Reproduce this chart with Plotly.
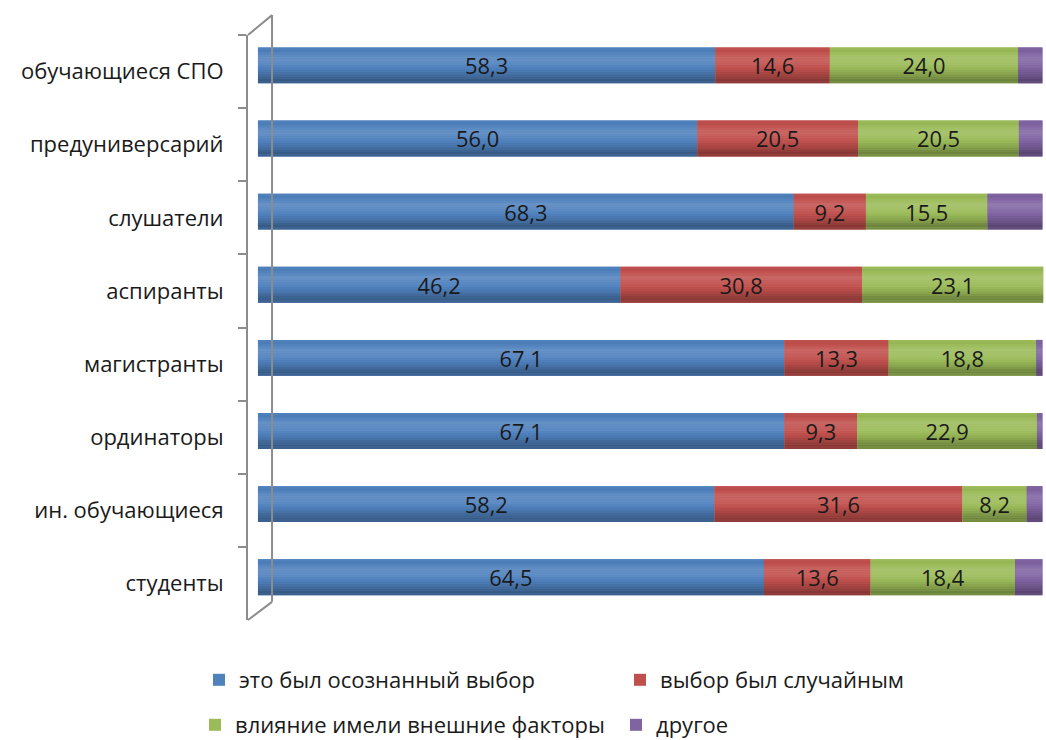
import plotly.graph_objects as go

# categories, top to bottom as in the picture
categories = ["обучающиеся СПО", "предуниверсарий", "слушатели", "аспиранты",
              "магистранты", "ординаторы", "ин. обучающиеся", "студенты"]

series_names = ["это был осознанный выбор", "выбор был случайным",
                "влияние имели внешние факторы", "другое"]

conscious = [58.3, 56.0, 68.3, 46.2, 67.1, 67.1, 58.2, 64.5]
random_choice = [14.6, 20.5, 9.2, 30.8, 13.3, 9.3, 31.6, 13.6]
external = [24.0, 20.5, 15.5, 23.1, 18.8, 22.9, 8.2, 18.4]
other = [3.1, 3.0, 7.0, 0.0, 0.8, 0.7, 2.0, 3.5]

colors = ["#4F81BD", "#C0504D", "#9BBB59", "#8064A2"]

FONT = "Open Sans"
TXT = "#1a1a1a"
BAR_W = 0.49
BAR_OFF = -0.33

# legend item anchors (container pixels: left, row centre)
legend_pos = [(199, 680), (620, 680), (195, 725), (616, 725)]

# cylinder shading profile across the bar, top -> bottom
# (position, amount): >0 towards white, <0 towards black
shade_stops = [(0.0, 0.05), (0.06, -0.06), (0.30, 0.14), (0.50, 0.06),
               (0.72, -0.12), (0.90, -0.30), (1.0, -0.22)]
N_STRIPS = 16


def fmt(vals):
    return [f"{v:.1f}".replace(".", ",") for v in vals]


def shade(hex_col, amt):
    r, g, b = (int(hex_col[k:k + 2], 16) for k in (1, 3, 5))
    if amt >= 0:
        r, g, b = (c + (255 - c) * amt for c in (r, g, b))
    else:
        r, g, b = (c * (1 + amt) for c in (r, g, b))
    return f"rgb({r:.0f},{g:.0f},{b:.0f})"


def profile(t):
    for (p0, a0), (p1, a1) in zip(shade_stops, shade_stops[1:]):
        if p0 <= t <= p1:
            return a0 + (a1 - a0) * (t - p0) / (p1 - p0)
    return 0.0


fig = go.Figure()
data = [conscious, random_choice, external, other]
bases = []
run = [0.0] * len(categories)
for vals in data:
    bases.append(list(run))
    run = [r + v for r, v in zip(run, vals)]

legend_keys = ["legend", "legend2", "legend3", "legend4"]

for i, (name, vals) in enumerate(zip(series_names, data)):
    common = dict(y=categories, x=vals, base=bases[i], orientation="h",
                  hoverinfo="skip")
    fig.add_trace(go.Bar(
        name=name, marker=dict(color=colors[i], line=dict(width=0)),
        width=BAR_W, offset=BAR_OFF, legend=legend_keys[i],
        **common,
    ))
    for k in range(N_STRIPS):
        a, b = k / N_STRIPS, (k + 1) / N_STRIPS
        fig.add_trace(go.Bar(
            marker=dict(color=shade(colors[i], profile((a + b) / 2)),
                        line=dict(width=0)),
            showlegend=False, offset=BAR_OFF + a * BAR_W,
            width=(b - a) * BAR_W * 1.02, **common,
        ))

# transparent bars on top carrying the value labels
for i, vals in enumerate(data[:3]):
    fig.add_trace(go.Bar(
        y=categories, x=vals, base=bases[i], orientation="h",
        width=BAR_W, offset=BAR_OFF, showlegend=False, hoverinfo="skip",
        marker=dict(color="rgba(0,0,0,0)", line=dict(width=0)),
        text=fmt(vals), textposition="inside", insidetextanchor="middle",
        textangle=0, textfont=dict(family=FONT, size=22, color=TXT),
    ))

# 3D wall: back line and diagonals (paper coords)
wall = dict(type="line", xref="paper", yref="paper",
            line=dict(color="#8c8c8c", width=2))
shapes = [
    dict(wall, x0=0.0302, y0=1.034, x1=0.0302, y1=0.031),
    dict(wall, x0=0.0, y0=1.0, x1=0.0302, y1=1.034),
    dict(wall, x0=0.0, y0=0.0, x1=0.0302, y1=0.031),
]

legends = {}
for key, (lx, ly) in zip(legend_keys, legend_pos):
    legends[key] = dict(orientation="h", xref="container", yref="container",
                        x=lx / 1046, y=(740 - ly) / 740,
                        xanchor="left", yanchor="middle",
                        itemclick=False, itemdoubleclick=False,
                        font=dict(family=FONT, size=22, color=TXT))

fig.update_layout(
    width=1046, height=740,
    margin=dict(l=248, r=2, t=35, b=120),
    paper_bgcolor="white", plot_bgcolor="rgba(0,0,0,0)",
    barmode="overlay",
    font=dict(family=FONT, size=22, color=TXT),
    showlegend=True,
    shapes=shapes,
    uniformtext=dict(mode="show", minsize=10),
    xaxis=dict(range=[-1.27, 100.2], visible=False, fixedrange=True),
    yaxis=dict(
        type="category", autorange="reversed", automargin=False,
        showline=True, linecolor="#8c8c8c", linewidth=2,
        ticks="outside", ticklen=8, tickcolor="#8c8c8c", tickwidth=2,
        tickson="boundaries", showgrid=False, zeroline=False,
        ticklabelstandoff=18,
        tickfont=dict(family=FONT, size=22, color=TXT),
    ),
    **legends,
)

fig.write_html("out.html", config={"displayModeBar": False},
               post_script="document.body.style.margin='0';")
